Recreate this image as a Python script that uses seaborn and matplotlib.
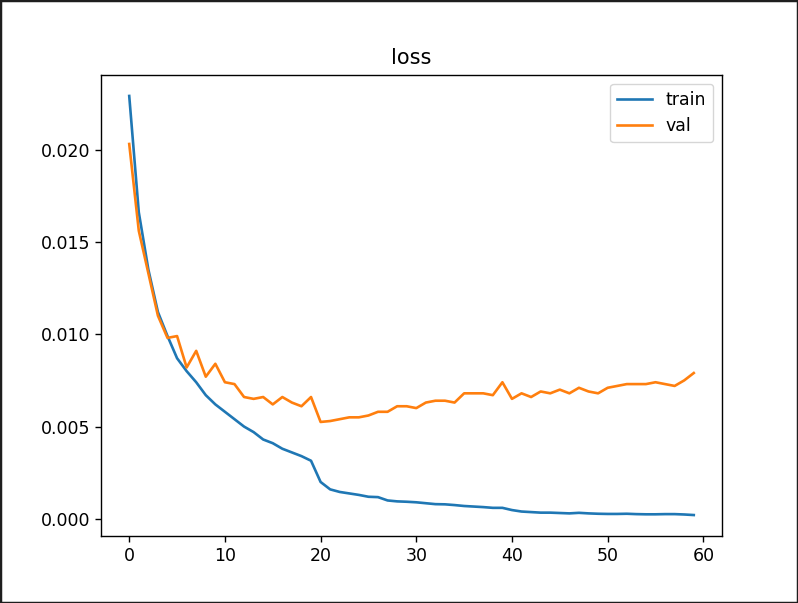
import numpy as np
import pandas as pd
import matplotlib
matplotlib.use("Agg")
import matplotlib.pyplot as plt
import seaborn as sns

# loss per epoch
train_loss = [0.0229, 0.0166, 0.0135, 0.0112, 0.0099, 0.0087, 0.0080, 0.0074, 0.0067, 0.0062,
              0.0058, 0.0054, 0.0050, 0.0047, 0.0043, 0.0041, 0.0038, 0.0036, 0.0034, 0.00315,
              0.0020, 0.0016, 0.00146, 0.00138, 0.0013, 0.0012, 0.00118, 0.0010, 0.00095, 0.00093,
              0.0009, 0.00085, 0.0008, 0.00079, 0.00075, 0.0007, 0.00067, 0.00064, 0.0006, 0.0006,
              0.00048, 0.0004, 0.00037, 0.00034, 0.00034, 0.00032, 0.0003, 0.00033, 0.0003, 0.00028,
              0.00027, 0.00027, 0.00028, 0.00026, 0.00025, 0.00025, 0.00026, 0.00026, 0.00024, 0.00021]
val_loss = [0.0203, 0.0156, 0.0133, 0.0110, 0.0098, 0.0099, 0.0082, 0.0091, 0.0077, 0.0084,
            0.0074, 0.0073, 0.0066, 0.0065, 0.0066, 0.0062, 0.0066, 0.0063, 0.0061, 0.0066,
            0.00525, 0.0053, 0.0054, 0.0055, 0.0055, 0.0056, 0.0058, 0.0058, 0.0061, 0.0061,
            0.0060, 0.0063, 0.0064, 0.0064, 0.0063, 0.0068, 0.0068, 0.0068, 0.0067, 0.0074,
            0.0065, 0.0068, 0.0066, 0.0069, 0.0068, 0.0070, 0.0068, 0.0071, 0.0069, 0.0068,
            0.0071, 0.0072, 0.0073, 0.0073, 0.0073, 0.0074, 0.0073, 0.0072, 0.0075, 0.0079]
epochs = np.arange(len(train_loss))

df = pd.DataFrame({"epoch": epochs, "train": train_loss, "val": val_loss})

fig = plt.figure(figsize=(7.98, 6.03), dpi=100)
ax = fig.add_axes([101 / 798, 1 - 536 / 603, 621 / 798, 461 / 603])

sns.lineplot(data=df, x="epoch", y="train", ax=ax, label="train", color="#1f77b4", linewidth=1.9)
sns.lineplot(data=df, x="epoch", y="val", ax=ax, label="val", color="#ff7f0e", linewidth=1.9)

ax.set_title("loss", fontsize=15, pad=8)
ax.set_xlabel("")
ax.set_ylabel("")
ax.set_xticks([0, 10, 20, 30, 40, 50, 60])
ax.set_yticks([0.0, 0.005, 0.010, 0.015, 0.020])
ax.set_yticklabels(["0.000", "0.005", "0.010", "0.015", "0.020"])
ax.tick_params(labelsize=12.5, length=4.4, width=1)
for s in ax.spines.values():
    s.set_linewidth(1)
ax.legend(loc="upper right", fontsize=12.5)

# screenshot border
fig.patches.append(plt.Rectangle((0, 0), 1, 1, transform=fig.transFigure,
                                 fill=False, edgecolor="#1e1e1e", linewidth=2.5))

fig.savefig("out.png", dpi=100)
